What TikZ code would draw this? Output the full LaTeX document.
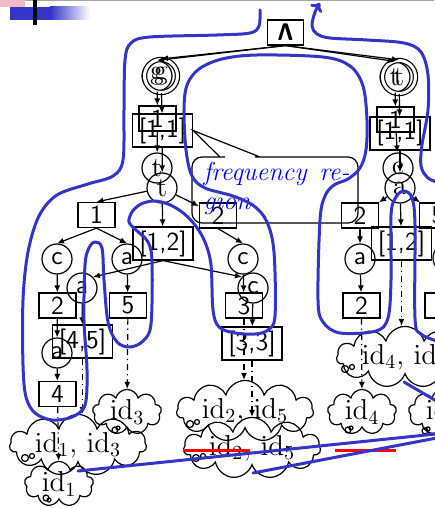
\documentclass[tikz,border=0pt]{standalone}
\usepackage{amssymb,amsmath}
\usetikzlibrary{arrows.meta,shapes.symbols}

\definecolor{regblue}{RGB}{52,52,200}
\definecolor{barpink}{RGB}{242,186,196}

\tikzset{
  lbl/.style={draw, rectangle, inner sep=0pt, font=\sffamily\fontsize{13}{15}\selectfont},
  numbox/.style={lbl, minimum width=18.5pt, minimum height=12.5pt},
  rangebox/.style={lbl, minimum width=30pt, minimum height=16.5pt},
  letter/.style={draw, circle, inner sep=0pt, minimum size=15pt, font=\fontsize{14}{16}\selectfont},
  sletter/.style={letter, font=\sffamily\fontsize{13}{15}\selectfont},
  final/.style={double, double distance=1.5pt, minimum size=16.5pt},
  idcloud/.style={draw, cloud, cloud puffs=11, cloud ignores aspect, inner sep=0pt,
    minimum width=68.5pt, minimum height=25pt, font=\fontsize{14.5}{17}\selectfont},
  smallcloud/.style={idcloud, cloud puffs=9, minimum width=34.5pt, minimum height=22pt},
  idlink/.style={->, dashdotted},
  region/.style={draw=regblue, line width=1.5pt, line cap=round, line join=round},
  redbar/.style={draw=red, line width=1.5pt}
}

\begin{document}
\begin{tikzpicture}[x=0.5pt, y=-0.5pt, line width=0.6pt, >={Latex[length=3.5pt,width=3pt]}]
\useasboundingbox (0, 0) rectangle (434, 508);

% slide decoration
\fill[gray!70] (0, 0) rectangle (434, 1.5);
\fill[barpink] (0, 0) rectangle (25, 7);
\fill[regblue] (10, 7) rectangle (50, 20);
\shade[left color=regblue, right color=white] (50, 7) rectangle (90, 20);
\fill[black] (32.5, 0) rectangle (36.5, 25);

\node[lbl, minimum width=18pt, minimum height=12.5pt] (root) at (285.5, 32.5) {$\boldsymbol{\mathsf{\Lambda}}$};

\begin{scope}[local bounding box=leftpart]
    \node[letter] (gA) at (157, 76) {g};
    \node[letter, final] (gB) at (161, 76) {g};
    \node[numbox] (oneA) at (157.5, 118.5) {1};
    \node[rangebox] (rngA) at (162.5, 130.5) {[1,1]};
    \node[letter] (tA) at (157, 168) {t};
    \node[letter] (tB) at (162, 188) {t};
    \node[numbox] (n1) at (96.5, 215) {1};
    \node[rangebox] (r12) at (163, 243.5) {[1,2]};
    \node[numbox] (n2) at (218, 215.5) {2};
    \node[sletter] (cA) at (57, 259) {c};
    \node[sletter] (aA) at (127, 259) {a};
    \node[sletter] (aB) at (82, 288) {a};
    \node[sletter] (cB) at (243, 259) {c};
    \node[sletter] (cC) at (253, 288) {c};
    \node[numbox] (n2b) at (57.5, 305.5) {2};
    \node[numbox] (n5) at (128, 305.5) {5};
    \node[numbox] (n3) at (244, 305.5) {3};
    \node[rangebox] (r45) at (82.5, 341.5) {[4,5]};
    \node[rangebox] (r33) at (252, 343.5) {[3,3]};
    \node[sletter] (aC) at (57, 353) {a};
    \node[numbox] (n4) at (57.5, 394) {4};

    \draw[->] (root.south) -- (gA.north);
    \draw[->] (root.south) -- (gB.north);
    \draw[->] (gA) -- (oneA);
    \draw[->] (gB) -- (rngA);
    \draw[->] (oneA) -- (tA);
    \draw[->] (rngA) -- (tB);
    \draw[->] (tB) -- (n1.north);
    \draw[->] (tB) -- (r12);
    \draw[->] (tB) -- (n2);
    \draw[->] (n1.south) -- (cA.north);
    \draw[->] (n1.south) -- (aA.north);
    \draw[->] (r12.south) -- (aB.north east);
    \draw[->] (r12.south) -- (cC.north west);
    \draw[->] (n2.south) -- (cB.north);
    \draw[->] (cA) -- (n2b);
    \draw[->] (aA) -- (n5);
    \draw[->] (aB) -- (r45);
    \draw[->] (n2b) -- (aC);
    \draw[->] (aC) -- (n4);
    \draw[->] (cB) -- (n3);
    \draw[->] (cC) -- (r33);
\end{scope}

\begin{scope}[local bounding box=rightpart]
    \node[letter] (tR) at (395, 77) {t};
    \node[letter, final] (tS) at (399, 77) {t};
    \node[numbox] (oneR) at (395.5, 119.5) {1};
    \node[rangebox] (rngR) at (400, 133.5) {[1,1]};
    \node[letter] (cR) at (398, 168) {c};
    \node[letter] (aR) at (400, 188) {a};
    \node[numbox] (m2) at (360, 215.5) {2};
    \node[rangebox] (m12) at (401.5, 243.5) {[1,2]};
    \node[numbox] (m5) at (438, 215.5) {5};
    \node[sletter] (aS) at (360, 259) {a};
    \node[sletter] (cS) at (448, 258) {c};
    \node[numbox] (m2b) at (361.5, 305.5) {2};
    \node[numbox] (m3) at (443.5, 305.5) {3};

    \draw[->] (root.south) -- (tR.north);
    \draw[->] (root.south) -- (tS.north);
    \draw[->] (tR) -- (oneR);
    \draw[->] (tS) -- (rngR);
    \draw[->] (oneR) -- (cR);
    \draw[->] (rngR) -- (aR);
    \draw[->] (aR) -- (m2);
    \draw[->] (aR) -- (m12);
    \draw[->] (aR) -- (m5);
    \draw[->] (m2) -- (aS);
    \draw[->] (aS) -- (m2b);
\end{scope}

% id lists
\node[idcloud] (id13) at (78, 445) {$\mathrm{id}_1$, $\mathrm{id}_3$};
\node[smallcloud] (id1) at (59, 484) {$\mathrm{id}_1$};
\node[smallcloud] (id3) at (127, 412) {$\mathrm{id}_3$};
\node[idcloud] (id25a) at (245, 411) {$\mathrm{id}_2$, $\mathrm{id}_5$};
\node[idcloud] (id25b) at (252, 448) {$\mathrm{id}_2$, $\mathrm{id}_5$};
\node[smallcloud] (id4) at (362, 412) {$\mathrm{id}_4$};
\node[idcloud] (id4x) at (405, 357) {$\mathrm{id}_4$, $\mathrm{id}_5$};
\node[smallcloud] (id5) at (443, 412) {$\mathrm{id}_5$};

\draw (25, 458) circle[radius=1.75pt] (32, 456) circle[radius=1.25pt];
\draw (46, 498) circle[radius=1.5pt] (49, 500) circle[radius=1pt];
\draw (115, 430) circle[radius=1.5pt] (118, 428) circle[radius=1pt];
\draw (190, 424) circle[radius=1.75pt] (197, 422) circle[radius=1.25pt];
\draw (196, 458) circle[radius=1.75pt] (203, 456) circle[radius=1.25pt];
\draw (348, 430) circle[radius=1.5pt] (351, 428) circle[radius=1pt];
\draw (345, 369) circle[radius=1.75pt] (352, 367) circle[radius=1.25pt];
\draw (425, 431) circle[radius=1.5pt] (428, 429) circle[radius=1pt];

\draw[idlink] (n4) -- (id1);
\draw[idlink] (r45.south) -- (r45.south |- id13.north);
\draw[idlink] (n5) -- (id3);
\draw[idlink] (n3.south) -- (n3.south |- id25a.north);
\draw[idlink] (r33) -- (id25b);
\draw[idlink] (m2b) -- (id4);
\draw[idlink] (m12.south) -- (m12.south |- id4x.north);

% callout
\draw[rounded corners=5pt] (225, 157) -- (192, 157) -- (192, 223) -- (358, 223) -- (358, 157) -- (265, 157)
    [sharp corners] -- (260, 157) -- (rngA.east) -- (220, 157) -- (225, 157);
\node[anchor=north west, inner sep=0pt, align=left, text=blue,
      font=\itshape\fontsize{13}{14.5}\selectfont] (freq) at (203, 162)
      {\makebox[73pt][s]{frequency re-}\\gion};

\draw[redbar] (183, 450) -- (250, 450);
\draw[redbar] (335, 450) -- (396, 450);

\coordinate (apex) at (484, 429);
\coordinate (l1) at (78, 471);
\coordinate (l2) at (253, 473);
\coordinate (l3) at (404, 382);
\draw[region] (l1) -- (apex) -- (l2);
\draw[region] (l3) -- (apex);

\draw[region] plot[smooth, tension=0.55] coordinates {
    (260, 10) (259, 26) (250, 33) (217, 35) (150, 37) (131, 43) (125, 60) (124, 110) (123, 160)
    (113, 176) (88, 184) (57, 195) (39, 216) (28, 252) (23, 300) (23, 365) (26, 397) (35, 413)
    (52, 420) (72, 417) (85, 405) (87, 370) (84, 320) (85, 265) (89, 248) (95, 242) (102, 248)
    (104, 280) (108, 322) (117, 342) (130, 347) (143, 341) (151, 324) (152, 262) (148, 242)
    (136, 230) (129, 222) (132, 212) (141, 204) (154, 201) (168, 204) (182, 212) (195, 225)
    (205, 242) (211, 265) (213, 310) (219, 327) (235, 333) (255, 334) (268, 330) (275, 316)
    (274, 252) (267, 222) (254, 206) (233, 196) (205, 188) (192, 176) (186, 150) (184, 110)
    (187, 85) (199, 69) (222, 59) (257, 55) (323, 57) (350, 66) (363, 86) (367, 120) (366, 150)
    (360, 168) (348, 179) (334, 185) (325, 196) (320, 220) (318, 300) (323, 322) (340, 333)
    (376, 331) (388, 318) (391, 280) (391, 215) (396, 197) (404, 191) (412, 198) (415, 225)
    (415, 318) (421, 334) (440, 342)};
\draw[region, -{To[length=4pt,width=7pt]}] plot[smooth, tension=0.55] coordinates {
    (440, 183) (428, 178) (421, 166) (422, 145) (428, 110) (428, 75) (421, 52) (404, 43)
    (367, 40) (330, 38) (317, 34) (312, 26) (315, 12) (320, 3)};
\end{tikzpicture}
\end{document}
